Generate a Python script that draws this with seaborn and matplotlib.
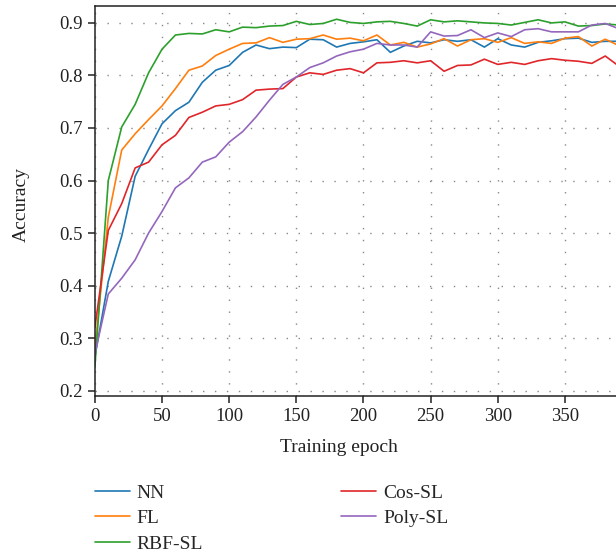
import pandas as pd
import seaborn as sns
from matplotlib import pyplot as plt

epochs = list(range(0, 400, 10))

nn = [0.264, 0.408, 0.494, 0.608, 0.659, 0.708, 0.733, 0.749, 0.787, 0.810,
      0.819, 0.844, 0.858, 0.851, 0.854, 0.853, 0.869, 0.868, 0.854, 0.861,
      0.864, 0.868, 0.844, 0.856, 0.865, 0.862, 0.868, 0.865, 0.868, 0.854,
      0.870, 0.858, 0.854, 0.863, 0.866, 0.870, 0.871, 0.863, 0.865, 0.865]
fl = [0.280, 0.530, 0.658, 0.689, 0.716, 0.742, 0.775, 0.810, 0.818, 0.838,
      0.850, 0.861, 0.862, 0.872, 0.863, 0.869, 0.870, 0.877, 0.869, 0.871,
      0.866, 0.877, 0.858, 0.863, 0.854, 0.860, 0.870, 0.856, 0.868, 0.870,
      0.863, 0.872, 0.861, 0.864, 0.861, 0.871, 0.874, 0.856, 0.869, 0.857]
rbf = [0.245, 0.600, 0.702, 0.745, 0.805, 0.850, 0.877, 0.880, 0.879, 0.887,
       0.883, 0.892, 0.891, 0.894, 0.895, 0.903, 0.897, 0.899, 0.907, 0.901,
       0.899, 0.902, 0.903, 0.899, 0.894, 0.906, 0.902, 0.904, 0.902, 0.900,
       0.899, 0.896, 0.901, 0.906, 0.900, 0.902, 0.894, 0.895, 0.898, 0.896]
cos = [0.320, 0.505, 0.556, 0.624, 0.635, 0.668, 0.686, 0.720, 0.730, 0.742,
       0.745, 0.754, 0.772, 0.774, 0.775, 0.797, 0.805, 0.802, 0.810, 0.813,
       0.805, 0.824, 0.825, 0.828, 0.824, 0.828, 0.808, 0.819, 0.820, 0.831,
       0.821, 0.825, 0.821, 0.828, 0.832, 0.829, 0.827, 0.823, 0.837, 0.818]
poly = [0.270, 0.384, 0.414, 0.449, 0.500, 0.541, 0.586, 0.605, 0.635, 0.645,
        0.673, 0.693, 0.721, 0.753, 0.783, 0.797, 0.815, 0.824, 0.837, 0.845,
        0.850, 0.861, 0.858, 0.858, 0.854, 0.883, 0.875, 0.876, 0.887, 0.872,
        0.881, 0.874, 0.887, 0.889, 0.883, 0.883, 0.883, 0.896, 0.899, 0.889]

names = ["NN", "FL", "RBF-SL", "Cos-SL", "Poly-SL"]
colors = ["#1f77b4", "#ff7f0e", "#2ca02c", "#e0262a", "#9467bd"]

df = pd.DataFrame({"epoch": epochs, "NN": nn, "FL": fl, "RBF-SL": rbf,
                   "Cos-SL": cos, "Poly-SL": poly})
df = pd.melt(df, id_vars=["epoch"], value_vars=names)

sns.set_style("ticks")
plt.rcParams["font.family"] = ["Liberation Serif", "DejaVu Serif"]
plt.rcParams["font.size"] = 12.5

fig = plt.figure(figsize=(6.16, 5.56), dpi=100)
ax = fig.add_axes([0.154, 0.288, 0.846, 0.701])

sns.lineplot(data=df, x="epoch", y="value", hue="variable",
             palette=dict(zip(names, colors)), linewidth=1.2, ax=ax)

ax.set_xlim(0, 388)
ax.set_ylim(0.19, 0.932)
ax.set_xticks(range(0, 400, 50))
ax.set_yticks([0.2, 0.3, 0.4, 0.5, 0.6, 0.7, 0.8, 0.9])
ax.set_yticklabels(["0.2", "0.3", "0.4", "0.5", "0.6", "0.7", "0.8", "0.9"])
ax.grid(True, color="#888888", linestyle=(0, (1, 7.6)), linewidth=1.0)

for s in ["left", "bottom", "top"]:
    ax.spines[s].set_color("#222222")
    ax.spines[s].set_linewidth(1.1)
ax.spines["right"].set_visible(False)
ax.tick_params(length=5, width=1.1, color="#222222", labelsize=13.5,
               colors="#222222")

ax.set_xlabel("Training epoch", fontsize=14, color="#222222")
ax.set_ylabel("Accuracy", fontsize=14, color="#222222")
ax.xaxis.set_label_coords(0.468, -0.11)
ax.yaxis.set_label_coords(-0.125, 0.49)

handles, labels = ax.get_legend_handles_labels()
ax.get_legend().remove()
fig.legend(handles, labels, ncol=2, loc="upper left",
           bbox_to_anchor=(0.154, 0.129), frameon=False, fontsize=14,
           borderpad=0, borderaxespad=0, handlelength=1.8,
           handletextpad=0.36, columnspacing=7.1, labelspacing=0.4)

fig.savefig("out.png", dpi=100)
